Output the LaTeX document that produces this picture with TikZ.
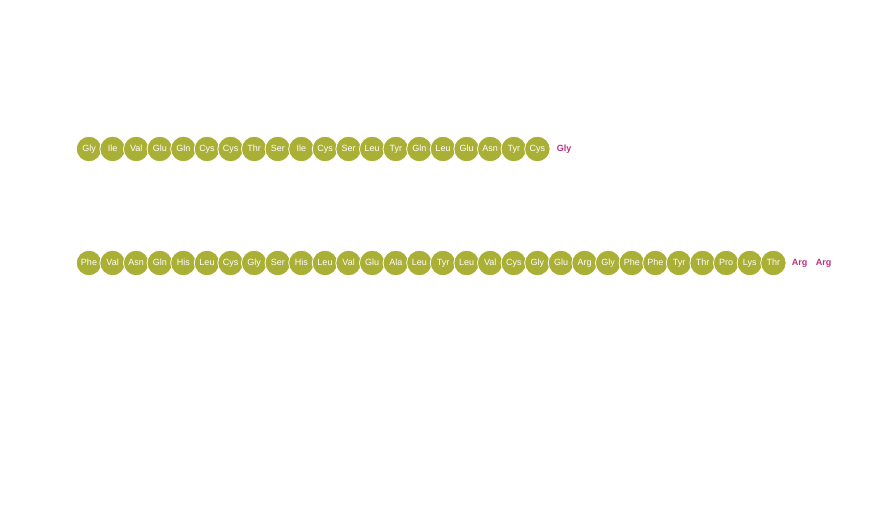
\documentclass[tikz,border=0pt]{standalone}
\usepackage{fontspec}
\setmainfont{Liberation Sans}
\definecolor{olive}{HTML}{AAAF35}
\definecolor{mag}{HTML}{B5307F}
\begin{document}
\begin{tikzpicture}[x=1pt,y=1pt,
  aa/.style={circle,fill=olive,draw=white,line width=0.8pt,minimum size=25.5pt,inner sep=0pt,text=white,text height=6.5pt,text depth=1.8pt,font=\fontsize{9}{10}\selectfont},
  free/.style={inner sep=0pt,text=mag,text height=6.5pt,text depth=1.8pt,font=\fontsize{9}{10}\selectfont\bfseries}]
\useasboundingbox (0,0) rectangle (892,530);
\foreach \n [count=\i from 0] in {Gly,Ile,Val,Glu,Gln,Cys,Cys,Thr,Ser,Ile,Cys,Ser,Leu,Tyr,Gln,Leu,Glu,Asn,Tyr,Cys}
  \node[aa] (a\i) at (89+\i*23.6,381) {\n};
\node[free] (a20) at (564,381) {Gly};
\foreach \n [count=\i from 0] in {Phe,Val,Asn,Gln,His,Leu,Cys,Gly,Ser,His,Leu,Val,Glu,Ala,Leu,Tyr,Leu,Val,Cys,Gly,Glu,Arg,Gly,Phe,Phe,Tyr,Thr,Pro,Lys,Thr}
  \node[aa] (b\i) at (89+\i*23.6,267) {\n};
\node[free] (b30) at (799.5,267) {Arg};
\node[free] (b31) at (823.5,267) {Arg};
\end{tikzpicture}
\end{document}
